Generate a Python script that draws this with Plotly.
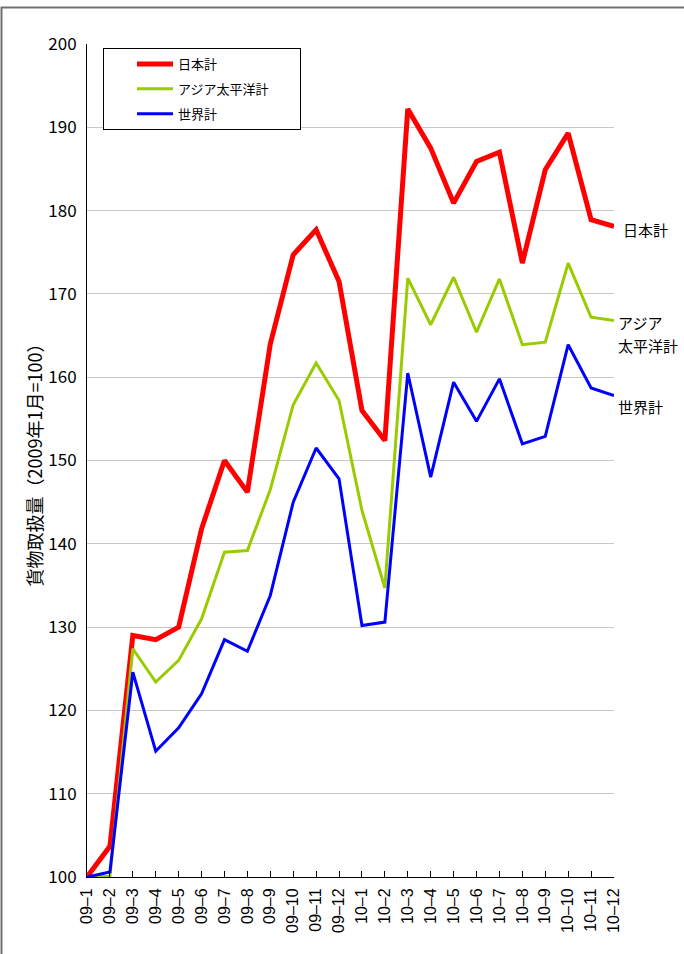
import plotly.graph_objects as go

months = ["09–1", "09–2", "09–3", "09–4", "09–5", "09–6", "09–7", "09–8",
          "09–9", "09–10", "09–11", "09–12", "10–1", "10–2", "10–3", "10–4",
          "10–5", "10–6", "10–7", "10–8", "10–9", "10–10", "10–11", "10–12"]

japan = [100.0, 103.7, 129.0, 128.5, 130.0, 141.8, 150.0, 146.2, 164.0, 174.7, 177.7, 171.5,
         156.0, 152.4, 192.2, 187.5, 180.9, 185.9, 187.0, 173.7, 184.9, 189.3, 178.9, 178.1]
asia = [100.0, 100.1, 127.4, 123.4, 126.0, 131.0, 139.0, 139.2, 146.5, 156.7, 161.7, 157.2,
        144.0, 134.7, 171.9, 166.3, 172.0, 165.4, 171.8, 163.9, 164.2, 173.7, 167.2, 166.8]
world = [100.0, 100.6, 124.6, 115.1, 117.9, 122.0, 128.5, 127.1, 133.8, 145.0, 151.5, 147.8,
         130.2, 130.6, 160.5, 148.0, 159.4, 154.7, 159.8, 152.0, 152.9, 163.9, 158.7, 157.8]

series_names = ["日本計", "アジア太平洋計", "世界計"]
series_colors = ["#FF0000", "#99CC00", "#0000FF"]
series_widths = [5, 3, 3]

end_labels = [("日本計", 177.7), ("アジア", 166.6), ("太平洋計", 163.8), ("世界計", 156.5)]

y_title = "貨物取扱量（2009年1月=100）"
y_ticks = [100, 110, 120, 130, 140, 150, 160, 170, 180, 190, 200]

FONT = "Liberation Sans Narrow, Arial Narrow, Noto Sans CJK JP, sans-serif"
XFONT = "Liberation Sans, Arial, sans-serif"
JFONT = "Noto Sans CJK JP, sans-serif"

W, H = 684, 954
L, R, T, B = 87, 70, 44, 77
pw, ph = W - L - R, H - T - B


def px_x(px):
    return (px - L) / pw


def px_y(py):
    return (H - B - py) / ph


fig = go.Figure()
for name, vals, col, w in zip(series_names, [japan, asia, world], series_colors, series_widths):
    legend_name = name + ("\u3000\u3000" if name == "アジア太平洋計" else "")
    fig.add_trace(go.Scatter(
        x=months, y=vals, mode="lines", name=legend_name,
        line=dict(color=col, width=w), cliponaxis=False, legendgroup=name,
    ))

# end-of-line labels
for i, (txt, yv) in enumerate(end_labels):
    fig.add_annotation(x=1, xref="paper", y=yv, yref="y", text=txt, showarrow=False,
                       xanchor="left", xshift=7 if i == 0 else 2,
                       font=dict(family=JFONT, size=15, color="black"))

# outer chart border
fig.add_shape(type="rect", xref="paper", yref="paper",
              x0=px_x(1.5), x1=px_x(700), y0=px_y(970), y1=px_y(7.5),
              line=dict(color="#707070", width=2), fillcolor="rgba(0,0,0,0)", layer="below")

fig.update_layout(
    width=W, height=H,
    margin=dict(l=L, r=R, t=T, b=B),
    paper_bgcolor="white", plot_bgcolor="white",
    font=dict(family=FONT, color="black"),
    showlegend=True,
    legend=dict(
        x=px_x(103), y=px_y(48), xanchor="left", yanchor="top",
        bordercolor="black", borderwidth=1, bgcolor="white",
        font=dict(family=JFONT, size=13, color="black"),
        itemwidth=36, indentation=28, tracegroupgap=5,
    ),
    xaxis=dict(
        type="category", range=[0, len(months) - 1],
        showgrid=False, showline=True, linecolor="black", linewidth=1,
        ticks="inside", ticklen=6, tickcolor="black", tickwidth=1,
        tickangle=-90, tickfont=dict(size=16, family=XFONT, color="black"), ticklabelstandoff=4,
        zeroline=False,
    ),
    yaxis=dict(
        range=[100, 200], tickvals=y_ticks, ticktext=[str(v) for v in y_ticks],
        showgrid=True, gridcolor="#C8C8C8", gridwidth=1,
        showline=True, linecolor="black", linewidth=1, ticks="",
        tickfont=dict(size=17, family=FONT, color="black"), ticklabelstandoff=6,
        title=dict(text=y_title, font=dict(size=18, family=FONT, color="black"), standoff=0),
        zeroline=False,
    ),
)

fig.write_html("out.html", config={"displayModeBar": False},
               post_script="document.body.style.margin='0';")
